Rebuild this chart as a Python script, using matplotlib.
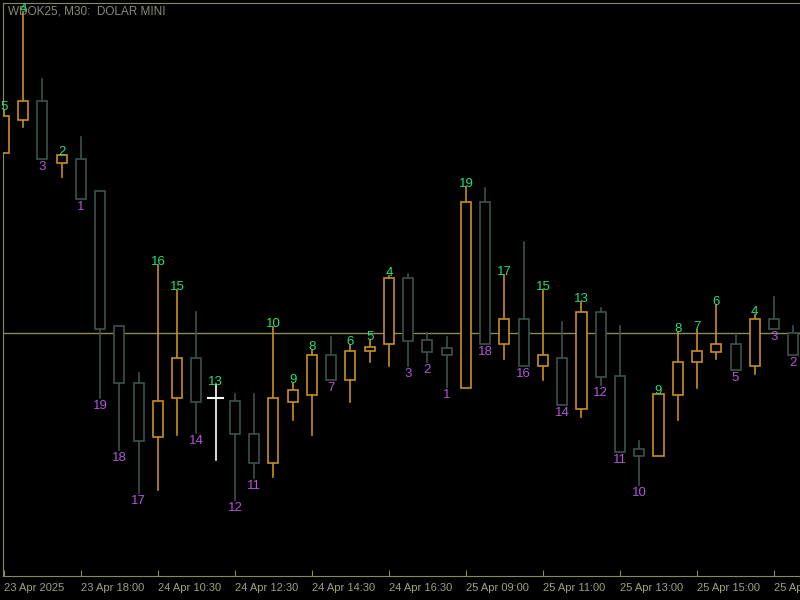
import matplotlib
matplotlib.use("Agg")
import matplotlib.pyplot as plt
from matplotlib.patches import Rectangle

plt.rcParams['font.family'] = ['Liberation Sans', 'DejaVu Sans']

# price in chart units (higher = up)
opens  = [447,480,499,437,441,409,274,217,163,202,242,202,199,166,137,198,205,245,220,249,256,322,260,252,212,398,256,281,234,242,191,288,224,151,144,205,238,248,256,234,281,267]
closes = [484,499,441,445,401,271,217,159,199,242,198,202,166,137,202,210,245,220,249,253,322,259,248,245,398,256,281,234,245,195,288,223,148,144,206,238,249,256,230,281,271,245]
highs  = [490,588,521,445,463,409,274,227,335,310,288,215,206,206,273,217,250,263,255,260,324,326,267,263,413,412,325,358,310,278,298,292,274,159,206,268,270,295,267,285,303,274]
lows   = [447,473,441,423,401,202,150,107,110,165,167,140,100,122,123,180,165,220,198,238,234,234,238,213,212,256,241,234,220,195,183,215,148,115,144,180,212,241,230,226,271,245]
high_labels = {0:"5",1:"4",3:"2",8:"16",9:"15",11:"13",14:"10",15:"9",16:"8",18:"6",19:"5",20:"4",
               24:"19",26:"17",28:"15",30:"13",34:"9",35:"8",36:"7",37:"6",39:"4"}
low_labels = {2:"3",4:"1",5:"19",6:"18",7:"17",10:"14",12:"12",13:"11",17:"7",21:"3",22:"2",23:"1",
              25:"18",27:"16",29:"14",31:"12",32:"11",33:"10",38:"5",40:"3",41:"2"}
tick_idx = [0,4,8,12,16,20,24,28,32,36,40]
tick_labels = ["23 Apr 2025","23 Apr 18:00","24 Apr 10:30","24 Apr 12:30","24 Apr 14:30","24 Apr 16:30",
               "25 Apr 09:00","25 Apr 11:00","25 Apr 13:00","25 Apr 15:00","25 Apr 17:00"]
hline_level = 267
title = "WDOK25, M30:  DOLAR MINI"

BULL = "#c8901e"
BEAR = "#3d524c"
AXC = "#8a8a55"
fig = plt.figure(figsize=(8, 6), dpi=100, facecolor="black")
ax = fig.add_axes([3/800, 24/600, 797/800, 573/600], facecolor="black")
ax.set_xlim(-0.05, 41.35)
ax.set_ylim(24, 597)
for s in ax.spines.values():
    s.set_color(AXC)
ax.spines["right"].set_visible(False)

ax.axhline(hline_level, color=AXC, lw=1, zorder=1)
w = 0.52
for i, (o, c, h, l) in enumerate(zip(opens, closes, highs, lows)):
    if o == c:
        col = "white"
    else:
        col = BULL if c > o else BEAR
    lo, hi = min(o, c), max(o, c)
    ax.plot([i, i], [hi, h], color=col, lw=1.2, zorder=2)
    ax.plot([i, i], [l, lo], color=col, lw=1.2, zorder=2)
    if o == c:
        ax.plot([i - 0.38, i + 0.38], [o, o], color=col, lw=1.5, zorder=3)
    else:
        ax.add_patch(Rectangle((i - w/2, lo), w, hi - lo, facecolor="black", edgecolor=col, lw=1.2, zorder=3))
for i, t in high_labels.items():
    ax.text(i, highs[i] - 3, t, color="#22e07a", fontsize=9.5, ha="center", va="bottom", zorder=4)
for i, t in low_labels.items():
    ax.text(i, lows[i] - 2, t, color="#b056d8", fontsize=9.5, ha="center", va="top", zorder=4)

ax.text(0.006, 0.995, title, transform=ax.transAxes, color="#8a8a7a", fontsize=8.5, ha="left", va="top")
ax.set_yticks([])
ax.set_xticks(tick_idx)
ax.set_xticklabels(tick_labels, ha="left", color="#a0a080", fontsize=8)
ax.tick_params(axis="x", colors=AXC, length=4, direction="in", pad=5, labelcolor="#a0a080")
fig.savefig("out.png", dpi=100, facecolor="black")
